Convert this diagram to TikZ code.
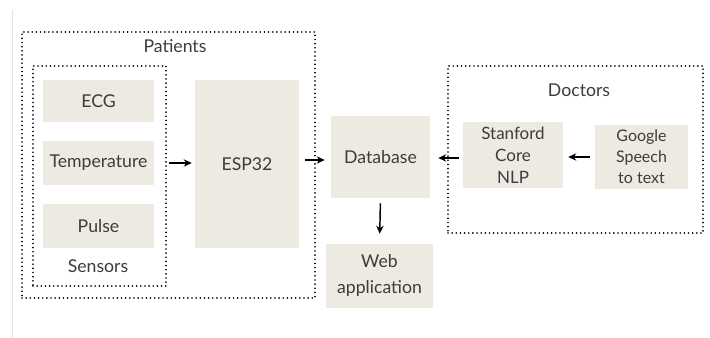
\documentclass[tikz,border=0pt]{standalone}
\usepackage{fontspec}
\setmainfont{Lato}
\usetikzlibrary{arrows.meta}
\definecolor{boxfill}{RGB}{237,234,225}
\definecolor{txtgray}{RGB}{60,60,60}
\definecolor{edgegray}{RGB}{228,228,228}

\begin{document}
\begin{tikzpicture}[x=0.75pt,y=-0.75pt]
	\tikzstyle{every node}+=[inner sep=0pt, text=txtgray, font=\fontsize{13.25}{16.5}\selectfont, align=center]
	\tikzstyle{block}=[fill=boxfill]
	\tikzstyle{group}=[draw=black, line width=1.3pt, dash pattern=on 0.01pt off 3.1pt, line cap=round]
	\tikzstyle{link}=[-{Stealth[length=6pt,width=5.5pt]}, line width=1.1pt, black]
	\useasboundingbox (0,0) rectangle (710,338);
	\draw [edgegray, line width=0.8pt] (12.5,10) -- (12.5,338);
	% patient side
	\node [group, minimum width=219.75pt, minimum height=199.5pt] (patients) at (168.5,165) {};
	\node (patientslbl) at (175,46) {Patients};
	\node [group, minimum width=99.75pt, minimum height=165pt] (sensors) at (99.5,176) {};
	\node [block, minimum width=83.25pt, minimum height=31.5pt] (ecg) at (98.5,101) {ECG};
	\node [block, minimum width=83.25pt, minimum height=33pt] (temp) at (98.5,163) {Temperature};
	\node [block, minimum width=83.25pt, minimum height=33pt] (pulse) at (98.5,226) {Pulse};
	\node (sensorslbl) at (98,266) {Sensors};
	\node [block, minimum width=78pt, minimum height=126pt] (esp) at (247,164) {ESP32};
	% server
	\node [block, minimum width=74.25pt, minimum height=61.5pt] (db) at (380.5,157) {Database};
	\node [block, minimum width=80.25pt, minimum height=48pt, font=\fontsize{13.25}{19.5}\selectfont] (web) at (379.5,276) {Web\\application};
	% doctor side
	\node [group, minimum width=191.25pt, minimum height=125.25pt] (doctors) at (575.5,149.5) {};
	\node (doctorslbl) at (579,90) {Doctors};
	\node [block, minimum width=75pt, minimum height=49.5pt, font=\fontsize{12.75}{16.5}\selectfont] (nlp) at (513,155) {Stanford\\Core\\NLP};
	\node [block, minimum width=69.75pt, minimum height=48pt, font=\fontsize{12}{15.75}\selectfont] (speech) at (641.5,157) {Google\\Speech\\to text};
	% arrows
	\draw [link, shorten <=1.5pt, shorten >=2.25pt] (sensors.east |- temp) -- (esp.west |- temp);
	\draw [link, shorten <=4.5pt, shorten >=4.5pt] (esp.east |- 0,160) -- (db.west |- 0,160);
	\draw [link, shorten <=3.75pt, shorten >=7.5pt] (db.south) -- (web.north);
	\draw [link, shorten <=3pt, shorten >=6pt] (nlp.west |- 0,158) -- (db.east |- 0,158);
	\draw [link, shorten <=3.75pt, shorten >=3.75pt] (speech.west |- 0,157) -- (nlp.east |- 0,157);
\end{tikzpicture}
\end{document}
